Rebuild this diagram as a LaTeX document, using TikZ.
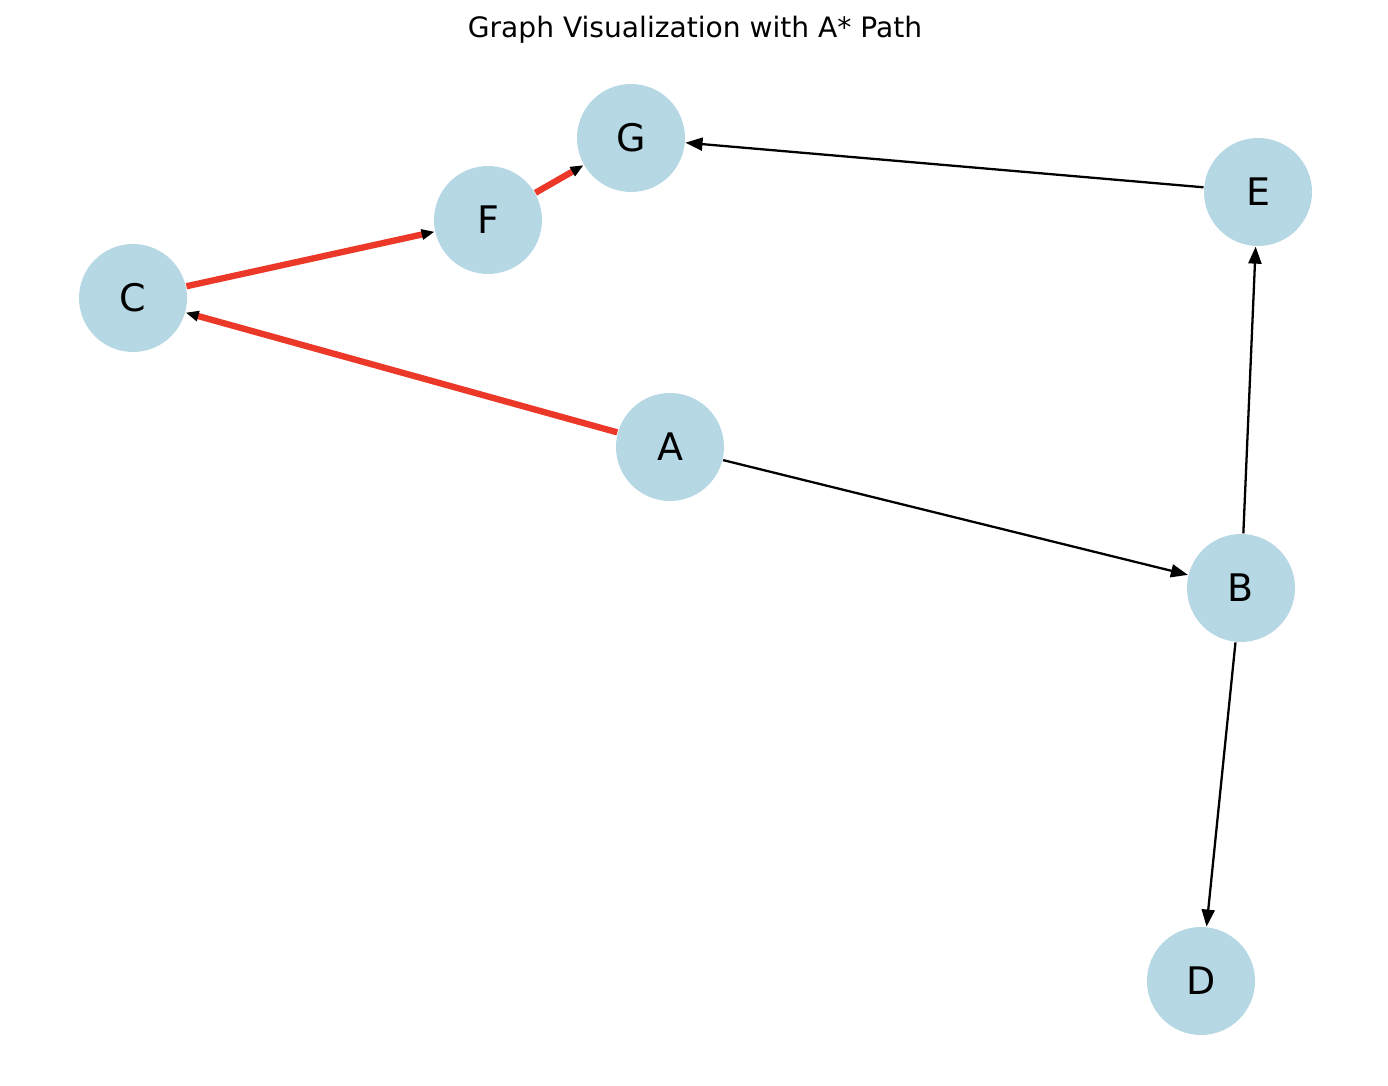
\documentclass[tikz,border=0pt]{standalone}
\usepackage{fontspec}
\setmainfont{DejaVu Sans}
\usetikzlibrary{arrows.meta}
\definecolor{nodeBlue}{RGB}{181,216,228}
\definecolor{pathRed}{RGB}{236,56,40}
\begin{document}
\begin{tikzpicture}[
		vertex/.style={circle, fill=nodeBlue, minimum size=1.08cm, inner sep=0pt, font=\fontsize{10.8}{12}\selectfont},
		plainEdge/.style={-{Triangle[length=1.7mm, width=1.3mm]}, line width=0.65pt, black},
		pathEdge/.style={-{Triangle[length=1.3mm, width=1mm, color=black]}, line width=1.8pt, pathRed}]
		\useasboundingbox (0,0) rectangle (13.88,-10.86);

		\node[font=\fontsize{8.0}{10}\selectfont](title) at (6.95,-0.30){Graph Visualization with A* Path};

		\node[vertex](A) at (6.70,-4.47){A};
		\node[vertex](B) at (12.41,-5.88){B};
		\node[vertex](C) at (1.33,-2.98){C};
		\node[vertex](D) at (12.01,-9.81){D};
		\node[vertex](E) at (12.58,-1.92){E};
		\node[vertex](F) at (4.88,-2.20){F};
		\node[vertex](G) at (6.31,-1.38){G};

		% draw other edges
		\draw[plainEdge] (A) -- (B);
		\draw[plainEdge] (B) -- (E);
		\draw[plainEdge] (B) -- (D);
		\draw[plainEdge] (E) -- (G);

		% draw path edges
		\draw[pathEdge] (A) -- (C);
		\draw[pathEdge] (C) -- (F);
		\draw[pathEdge] (F) -- (G);

	\end{tikzpicture}
\end{document}
